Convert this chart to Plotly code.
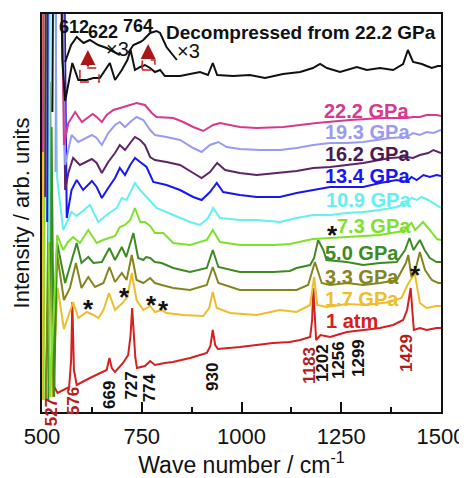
import plotly.graph_objects as go

# ---------------- data (wavenumber cm-1, intensity arb. units incl. vertical offset) ----------------
dec_wn = [526, 529, 545, 551, 558, 576, 591, 612, 629, 645, 670, 683, 700, 714, 722, 733, 746, 758, 771, 783, 796, 808,
          846, 896, 916, 928, 939, 979, 1021, 1059, 1104, 1147, 1179, 1197, 1214, 1247, 1289, 1314, 1347, 1380,
          1405, 1417, 1430, 1452, 1464, 1477, 1492, 1500]
dec_i = [300, 520, 520, 352, 311, 349, 332, 332, 334, 334, 349, 332, 342, 352, 362, 342, 345, 347, 344, 340, 342, 336,
         336, 340, 337, 349, 337, 336, 337, 334, 338, 340, 344, 348, 344, 340, 345, 342, 344, 342,
         348, 362, 350, 348, 346, 344, 346, 346]

ins1_wn = [558, 573, 587, 604, 620, 641, 662, 695]
ins1_i = [350, 367, 375, 369, 372, 367, 364, 357]
ins2_wn = [716, 729, 746, 754, 771, 787, 796, 812, 838]
ins2_i = [359, 367, 370, 372, 379, 381, 379, 365, 352]

p222_wn = [502, 505, 546, 555, 566, 583, 600, 627, 637, 650, 662, 679, 704, 721, 737, 758, 775, 787, 829, 854, 879, 904,
           929, 946, 996, 1038, 1105, 1188, 1272, 1355, 1414, 1431, 1447, 1464, 1489, 1500]
p222_i = [260, 520, 520, 267, 289, 300, 290, 298, 295, 290, 297, 302, 305, 307, 309, 307, 299, 295, 294, 290, 285, 281,
          287, 289, 285, 284, 285, 289, 292, 294, 294, 295, 295, 297, 297, 296]

p193_wn = [534, 536, 549, 558, 574, 591, 625, 637, 650, 666, 683, 695, 708, 721, 737, 754, 771, 783, 812, 846, 879, 900,
           921, 942, 963, 996, 1046, 1096, 1138, 1180, 1222, 1264, 1305, 1372, 1414, 1430, 1447, 1464, 1481, 1500]
p193_i = [240, 520, 520, 247, 277, 270, 277, 274, 267, 279, 287, 290, 285, 290, 295, 292, 282, 277, 275, 272, 264, 260,
          267, 270, 265, 263, 262, 262, 264, 267, 269, 269, 270, 274, 275, 279, 277, 280, 279, 282]

p162_wn = [508, 510, 550, 558, 566, 578, 595, 625, 637, 650, 666, 683, 695, 708, 721, 733, 746, 758, 771, 783, 812, 846,
           879, 900, 921, 939, 959, 996, 1038, 1096, 1138, 1180, 1222, 1264, 1305, 1372, 1414, 1430, 1447, 1468,
           1481, 1500]
p162_i = [215, 520, 520, 222, 239, 254, 247, 253, 249, 239, 250, 259, 267, 262, 269, 275, 272, 267, 255, 252, 250, 247,
          239, 234, 240, 249, 242, 239, 237, 239, 241, 244, 245, 247, 249, 254, 255, 254, 257, 259, 262, 259]

p134_wn = [513, 515, 554, 562, 574, 587, 603, 625, 637, 650, 666, 683, 695, 708, 721, 733, 746, 762, 779, 812, 846, 879,
           900, 921, 938, 954, 996, 1038, 1096, 1138, 1180, 1222, 1264, 1305, 1347, 1389, 1414, 1426, 1439, 1456,
           1472, 1489, 1500]
p134_i = [190, 520, 520, 194, 222, 232, 222, 231, 225, 214, 224, 234, 244, 237, 247, 254, 250, 245, 230, 227, 222, 215,
          212, 220, 229, 220, 217, 215, 215, 219, 222, 225, 225, 225, 229, 232, 230, 235, 232, 237, 235, 237, 236]

p109_wn = [518, 520, 531, 538, 553, 574, 587, 599, 620, 641, 662, 687, 700, 712, 733, 746, 762, 787, 829, 871, 896, 916,
           929, 946, 996, 1038, 1096, 1138, 1180, 1222, 1264, 1305, 1347, 1389, 1414, 1426, 1439, 1452, 1468, 1481, 1500]
p109_i = [170, 520, 520, 234, 182, 200, 196, 200, 207, 190, 197, 204, 214, 212, 229, 222, 215, 204, 197, 190, 187, 194,
          204, 194, 192, 192, 190, 194, 197, 197, 199, 200, 202, 205, 209, 214, 212, 215, 212, 209, 204]

p73_wn = [504, 510, 520, 538, 553, 565, 578, 595, 616, 637, 653, 670, 683, 695, 708, 721, 733, 746, 758, 771, 783,
          804, 829, 871, 913, 928, 946, 996, 1080, 1121, 1179, 1264, 1347, 1405, 1426, 1435, 1455, 1472, 1490, 1500]
p73_i = [12, 520, 15, 177, 162, 170, 175, 169, 182, 169, 172, 174, 176, 185, 187, 192, 204, 190, 190, 186, 179,
         179, 169, 167, 172, 182, 170, 167, 167, 168, 173, 175, 177, 181, 189, 182, 190, 182, 173, 172]

p50_wn = [516, 524, 530, 538, 558, 570, 587, 599, 616, 629, 650, 669, 683, 700, 711, 729, 741, 754, 761, 771, 783,
          800, 829, 871, 913, 928, 942, 996, 1080, 1121, 1138, 1172, 1182, 1192, 1205, 1213, 1264, 1305, 1347, 1389,
          1410, 1421, 1431, 1447, 1459, 1472, 1489, 1500]
p50_i = [12, 285, 15, 169, 129, 145, 169, 149, 155, 149, 150, 164, 152, 165, 155, 179, 154, 152, 155, 154, 150,
         149, 144, 140, 144, 162, 145, 140, 140, 141, 144, 147, 154, 172, 162, 152, 150, 147, 149, 150,
         162, 174, 162, 172, 162, 154, 150, 150]

p33_wn = [510, 520, 529, 537, 555, 570, 585, 599, 616, 633, 654, 669, 683, 700, 712, 725, 737, 754, 771, 783, 800,
          829, 871, 913, 928, 942, 996, 1080, 1138, 1167, 1184, 1201, 1222, 1264, 1305, 1347, 1389, 1412, 1418, 1426,
          1437, 1447, 1460, 1477, 1493, 1500]
p33_i = [12, 330, 15, 160, 112, 124, 149, 124, 135, 125, 129, 145, 130, 139, 132, 157, 132, 129, 134, 129, 127,
         124, 122, 127, 145, 129, 122, 122, 122, 127, 150, 129, 127, 129, 127, 129, 132, 149, 157, 135,
         144, 160, 142, 132, 129, 129]

p17_wn = [501, 503, 513, 526, 539, 555, 578, 591, 612, 629, 641, 654, 668, 683, 704, 714, 725, 737, 754, 771, 783, 800,
          812, 854, 904, 919, 928, 938, 971, 1038, 1096, 1138, 1172, 1182, 1190, 1213, 1264, 1314, 1372, 1401, 1416,
          1434, 1447, 1464, 1489, 1500]
p17_i = [12, 520, 520, 15, 124, 83, 110, 94, 100, 97, 94, 102, 119, 102, 110, 115, 139, 112, 102, 106, 100, 102,
         99, 97, 96, 104, 120, 104, 99, 97, 102, 100, 107, 135, 107, 105, 108, 107, 110, 114, 127,
         139, 109, 104, 106, 106]

atm_wn = [509, 523, 531, 539, 568, 573, 576, 580, 587, 620, 662, 669, 675, 683, 703, 716, 722, 726, 731, 734, 738,
          758, 771, 783, 808, 828, 871, 913, 922, 928, 934, 941, 996, 1079, 1121, 1147, 1172, 1177, 1180, 1184, 1187,
          1198, 1222, 1264, 1304, 1347, 1380, 1405, 1415, 1424, 1429, 1432, 1447, 1464, 1489, 1500]
atm_i = [14, 210, 25, 19, 25, 52, 110, 42, 27, 34, 42, 54, 44, 40, 49, 57, 77, 104, 72, 54, 44,
         46, 51, 47, 49, 50, 54, 59, 66, 82, 67, 63, 65, 69, 70, 72, 75, 92, 124, 92, 72,
         77, 75, 80, 82, 84, 87, 92, 102, 124, 97, 82, 84, 82, 84, 84]

# drawn bottom spectrum first so the upper spectra lie on top
series = [
    ("1 atm", atm_wn, atm_i, "#d42020"),
    ("1.7 GPa", p17_wn, p17_i, "#efbd2a"),
    ("3.3 GPa", p33_wn, p33_i, "#85851f"),
    ("5.0 GPa", p50_wn, p50_i, "#3e8a22"),
    ("7.3 GPa", p73_wn, p73_i, "#7fe12a"),
    ("10.9 GPa", p109_wn, p109_i, "#62f0f0"),
    ("13.4 GPa", p134_wn, p134_i, "#1818ee"),
    ("16.2 GPa", p162_wn, p162_i, "#5e2466"),
    ("19.3 GPa", p193_wn, p193_i, "#9a9af2"),
    ("22.2 GPa", p222_wn, p222_i, "#d6398d"),
    ("Decompressed from 22.2 GPa", dec_wn, dec_i, "#111111"),
]

peak_labels = ["527", "576", "669", "727", "774", "930", "1183", "1202", "1256", "1299", "1429"]
peak_label_pos = [(523, 0), (578, 11), (668, 17), (722, 26), (769, 24), (926, 35),
                  (1169, 47), (1202, 49), (1242, 52), (1292, 54), (1412, 59)]
peak_label_red = {"527", "576", "1183", "1429"}

FONT = "Liberation Sans, Arial, sans-serif"

fig = go.Figure()
for name, wn, inten, col in series:
    fig.add_trace(go.Scatter(x=wn, y=inten, mode="lines", name=name,
                             line=dict(color=col, width=2), showlegend=False))
for wn, inten in [(ins1_wn, ins1_i), (ins2_wn, ins2_i)]:
    fig.add_trace(go.Scatter(x=wn, y=inten, mode="lines", line=dict(color="#111111", width=2),
                             showlegend=False))

ann = []
for t, (x, y) in zip(peak_labels, peak_label_pos):
    ann.append(dict(x=x, y=y, text="<b>%s</b>" % t, textangle=-90, showarrow=False,
                    font=dict(family=FONT, size=17, color="#b51c1c" if t in peak_label_red else "#111111")))

labels = [("22.2 GPa", 1314, 301, "#d6398d"), ("19.3 GPa", 1317, 280, "#9a9af2"),
          ("16.2 GPa", 1317, 258, "#4e1a50"), ("13.4 GPa", 1317, 236, "#1818ee"),
          ("10.9 GPa", 1319, 212, "#62f0f0"), ("7.3 GPa", 1331, 186, "#7fe12a"),
          ("5.0 GPa", 1302, 159, "#3e8a22"), ("3.3 GPa", 1302, 135, "#85851f"),
          ("1.7 GPa", 1302, 113, "#efbd2a"), ("1 atm", 1277, 91, "#d42020")]
for t, x, y, c in labels:
    ann.append(dict(x=x, y=y, text="<b>%s</b>" % t, showarrow=False,
                    font=dict(family=FONT, size=20, color=c)))

ann.append(dict(x=1149, y=380, text="<b>Decompressed from 22.2 GPa</b>", showarrow=False,
                font=dict(family=FONT, size=19, color="#111111")))
for t, x, y in [("612", 579, 385), ("622", 653, 380), ("764", 741, 386)]:
    ann.append(dict(x=x, y=y, text="<b>%s</b>" % t, showarrow=False,
                    font=dict(family=FONT, size=18, color="#111111")))
for x, y in [(690, 363), (866, 361)]:
    ann.append(dict(x=x, y=y, text="\u00d73", showarrow=False,
                    font=dict(family=FONT, size=20, color="#111111")))
for x, y in [(616, 110), (708, 122), (775, 114), (804, 109), (1435, 144), (1228, 184)]:
    ann.append(dict(x=x, y=y, text="<b>*</b>", showarrow=False, yshift=-7,
                    font=dict(family=FONT, size=26, color="#111111")))
# arrows rising from the dashed boxes
for x, y0, y1 in [(615, 344, 362), (766, 352, 368)]:
    ann.append(dict(x=x, y=y1, ax=x, ay=y0, axref="x", ayref="y", xref="x", yref="y", text="",
                    showarrow=True, arrowhead=2, arrowsize=1.2, arrowwidth=2.5, arrowcolor="#a81818"))

shapes = [dict(type="rect", x0=595, x1=643, y0=330, y1=344, line=dict(color="#c02020", width=1.5, dash="dash")),
          dict(type="rect", x0=751, x1=783, y0=342, y1=352, line=dict(color="#c02020", width=1.5, dash="dash"))]

# the page adds an 8 px body margin, so the figure is 8 px smaller than the window
fig.update_layout(
    width=459, height=470, margin=dict(l=34, r=26, t=6, b=66, autoexpand=False),
    paper_bgcolor="white", plot_bgcolor="white",
    font=dict(family=FONT, color="#111111"),
    annotations=ann, shapes=shapes,
    xaxis=dict(range=[500, 1500], tickvals=[500, 750, 1000, 1250, 1500], automargin=False,
               ticks="inside", ticklen=10, tickwidth=1.5, tickcolor="#111111", ticklabelstandoff=4,
               minor=dict(tickvals=[625, 875, 1125, 1375], ticks="inside", ticklen=5, tickwidth=1.5,
                          tickcolor="#111111"),
               showline=True, linecolor="#111111", linewidth=2, mirror=True, showgrid=False, zeroline=False,
               tickfont=dict(size=22, family=FONT),
               title=dict(text="Wave number / cm<sup>-1</sup>", font=dict(size=23, family=FONT), standoff=5)),
    yaxis=dict(range=[0, 398], showticklabels=False, ticks="", showline=True, linecolor="#111111",
               linewidth=2, mirror=True, showgrid=False, zeroline=False, automargin=False,
               title=dict(text="Intensity / arb. units", font=dict(size=22, family=FONT), standoff=4)),
)
fig.write_html("out.html")
